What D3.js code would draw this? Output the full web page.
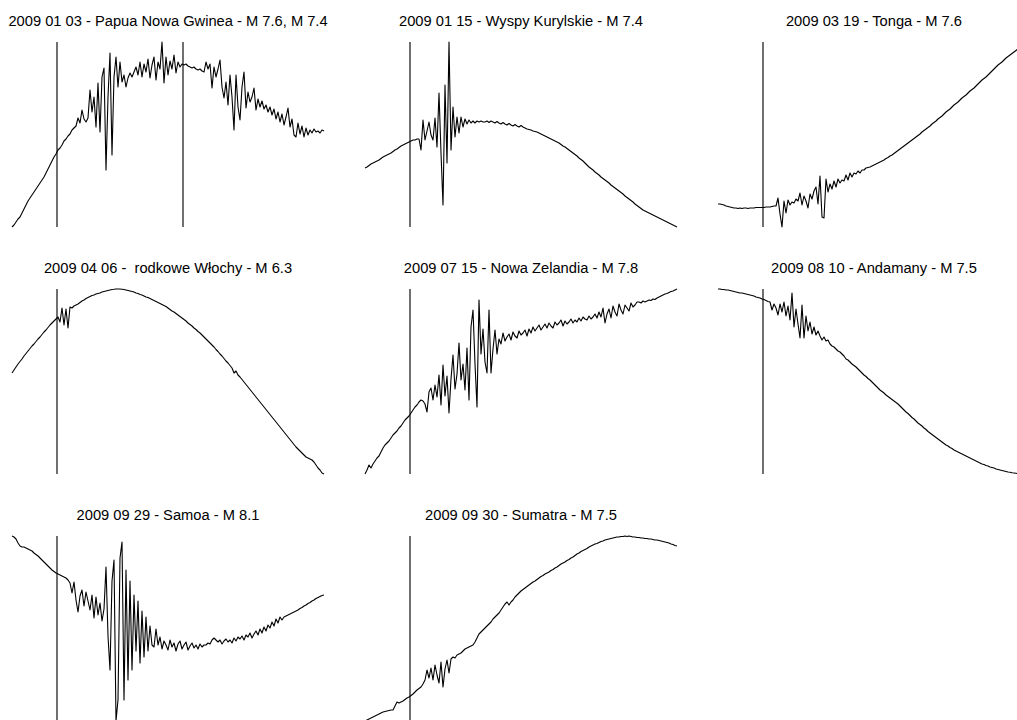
<!DOCTYPE html>
<html>
<head>
<meta charset="utf-8">
<script src="https://cdnjs.cloudflare.com/ajax/libs/d3/7.8.5/d3.min.js"></script>
<style>
  body { margin: 0; background: #fff; }
  svg { display: block; }
  .title { font-family: "Liberation Sans", Arial, sans-serif; font-size: 14.7px; fill: #000; white-space: pre; }
</style>
</head>
<body>
<div id="chart"></div>
<script>
// panel titles (one per earthquake)
var titles = [
    "2009 01 03 - Papua Nowa Gwinea - M 7.6, M 7.4",
    "2009 01 15 - Wyspy Kurylskie - M 7.4",
    "2009 03 19 - Tonga - M 7.6",
    "2009 04 06 -  rodkowe Włochy - M 6.3",
    "2009 07 15 - Nowa Zelandia - M 7.8",
    "2009 08 10 - Andamany - M 7.5",
    "2009 09 29 - Samoa - M 8.1",
    "2009 09 30 - Sumatra - M 7.5"
];

// event times (minutes from start of record)
var markers = [[22.5, 85.5], [22.5], [22.5], [22.5], [22.5], [22.5], [22.5], [22.5]];

// traces, one sample per minute
var trace1 = [0,2,5,8,10,14,18,22,26,29,32,35,38,41,44,47,50,54,58,62,66,70,73,77,79,82,86,88,91,93,97,99,101,
    109,104,117,108,105,
    109,137,115,130,100,144,95,150,159,57,130,174,72,150,170,140,165,145,152,140,149,154,150,155,
    160,152,165,150,163,155,168,149,162,170,147,165,158,185,144,170,152,166,158,172,154,165,160,163,
    162,163,161,160,159,160,158,157,158,156,155,
    165,158,163,139,160,150,158,167,140,129,145,122,152,130,97,152,120,107,140,155,119,135,125,130,139,117,128,120,
    126,118,122,115,120,112,118,108,115,105,113,102,110,119,100,108,92,90,104,93,101,90,99,92,97,94,98,95,96,94,97,96];

var trace2 = [59,60,61.5,63,64,65,66,67,68.5,70,71,72,73,74,75.5,77,78,79.5,81,82,83,84,85,86,87,87,88,88,77,
    107,87,96,105,92,87,109,80,134,74,22,142,64,185,77,120,90,110,94,110,100,108,103,107,104,106,104,106,105,106,105,
    105,106,104.5,106,105,104,105.5,104,103,104.5,103,102,103.5,102,101,102.5,101,100,101.5,100,
    99,98,97.5,97,96,95.5,95,94,93,92,91,90,89,88,87,86,85,84,82.5,81,80,78.5,77,75.5,74,72.5,71,69,67.5,66,
    64,62,60,58.5,57,55,53.5,52,50,48.5,47,45.5,44,42,40.5,39,37.5,36,34.5,33,31,29.5,28,26.5,25,23,21.5,20,18.5,17,
    16,15,14,13,12,11,10,9,8,7,6,5,4,3,2,1,0];

var trace3 = [23,23,22.5,22,21,20.5,20,19.5,19,19,18.5,19,18.5,19,19,18.5,19,19,19,19.5,19.5,19.5,19.5,19.5,20,20,20,20.5,21,21,
    29,13,0,26,14,27,22,25,24,28,26,34,22,31,26,19,33,28,36,40,23,51,10,9,48,35,43,38,46,40,48,44,47,46,52,47,54,50,54,53,56,54,57,57,59,59.5,
    60,61,62,63,64,65,66,67,68.5,69.5,71,72,73.5,75,76.5,78,79.5,81,82.5,84,85.5,87,88.5,90,91.5,93,95,96.5,98,99.5,
    101,103,104.5,106,108,109.5,111,113,115,116.5,118,120,122,123.5,125,127,129,130.5,132,134,136,137.5,139,141,143,
    145,147,148.5,150,152,154,156,158,160,162,163.5,165,167,169,170.5,172,173.5,175,176.5,178,179.5,181,182,183,184,185];

var trace4 = [101,104,107,110,112.5,115,118,120.5,123,125.5,128,130,132.5,135,137,139.5,142,144,146.5,149,151,153,155,
    157,152,166,149,165,146,167,
    166,168,169,170,171.5,173,174,175.5,176.5,177.5,178.5,179,180,180.5,181,182,182.5,183,183.5,184,184.5,184.7,185,185,185,
    184.8,184.5,184,183.5,183,182.5,182,181,180.5,179.5,179,178,177,176.5,175.5,174.5,173.5,172.5,171.5,170.5,
    169.5,168.5,167.5,166,164.5,163,162,160.5,159,157.5,156,154.5,153,151,149.5,148,146,144.5,142.5,141,
    139,137,135,133,131,129,127,124.5,122.5,120,118,115.5,113,111,108.5,106,101,103,99,97,
    94.5,92,89.5,87,84.5,82,79.5,77,74.5,72,69.5,67,64.5,62,59.5,57,54.5,52,49.5,47,
    44.5,42,39.5,37,34.5,32,29.5,27,25,23,21,19,17,16,15,14,12,9,6,4,1,0];

var trace5 = [0,4,9,6,10,13,16,18,22,26,29,31,33,36,39,41,43,46,48,51,54,56,58,61,64,67,69,72,74,
    73,70,62,82,86,74,89,77,99,69,109,78,98,61,95,119,85,100,131,94,110,84,126,74,147,164,110,67,174,120,145,112,101,164,101,125,144,120,
    135,130,141,133,137,140,134,142,138,136,143,139,141,144,138,145,141,147,143,146,149,144,147,150,146,
    151,148,146,152,149,151,154,148,153,150,152,155,151,154,152,156,153,157,155,154,158,155,157,160,156,
    162,157,166,151,160,165,156,168,162,158,170,164,160,169,166,163,171,167,169,172,
    172,171,173,172,173,174,173.5,175,174.5,176,177,178,179,180,180.5,181.5,182.5,183,184,185];

var trace6 = [185,185,184.5,184.5,184,184,183.5,183,182.5,182,181.5,181,181,180.5,180,179.5,179,178.5,178,177,176.5,176,175,174.5,173.5,172.5,172,
    164,170,166,159,170,162,172,158,168,154,181,147,165,150,136,169,136,158,143,152,140,147,139,143,138,134,137,133,134,130,
    128,127,125,123,122,120,118,115,114,112,110,108.5,107,105,103,101,99,97.5,95.5,94,92,90,88,86,84,
    82.5,81,79,77.5,76,74.5,73,71.5,70,68,66,64,62,60.5,58.5,56.5,55,53,51,49.5,48,46,44.5,42.5,41,
    39.5,38,36.5,35,33.5,32,30.5,29,28,26.5,25.5,24,23,22,21,20,19,18,17,16,15,14,13,12,11,
    10,9.5,8.5,8,7,6.5,6,5,4.5,4,3.5,3,2.5,2,1.7,1.3,1,0.7,0.4,0.2,0,0,0,0.2,0.4];

var trace7 = [185,184,182,178,175,174,174,173,172,171,170,168,166.5,165,163,161,159,157,155,153,151,149.5,148,147,146,145,144,143,141,138,
    128,139,121,109,125,131,115,129,120,111,126,103,124,106,118,100,112,154,85,51,140,161,0,21,163,179,21,151,41,140,51,126,70,120,58,110,64,104,70,95,76,74,92,76,
    84,72,80,76,71,81,74,78,70,77,80,72,76,79,71,75,78,73,76,72,77,74,76,
    76,78,77,81,83,81,79,81,77,80,82,79,81,78,83,80,84,82,85,81,86,84,88,83,87,90,86,92,88,94,
    90,96,93,99,95,102,98,104,101,104,105,106,107,108,109,110,111,112.5,113.5,115,116,117.5,118.5,120,121,122.5,123.5,124.5,125.5,126];

var trace8 = [0,1,2,3,4,5,6,7,8,9,9.5,10,10.5,11,11,15,19,18,19,20,21.5,23,24,25.5,27,29,31,32.5,34,37,41,
    51,43,53,41,56,46,38,59,34,52,61,48,62,64,63,66,67,68,70,72,73,74,75,76,
    79,83,87,89,91,93,95,97,99,102,104,106,108,111,114,117,119,116,119,121,124,126,128,130,131.5,
    133,134.5,136,137.5,139,140,141.5,143,144.5,145.5,147,148,149,150.5,151.5,153,154,155.5,157,158,
    159,160.5,161.5,163,164,165.5,167,168,169.5,170.5,171.5,172.5,174,175,176,177,177.5,178.5,179.5,180,
    181,181.5,182,182.5,183,183.5,184,184,184.5,184.5,185,184.5,185,184.5,184,184,183.5,183.5,183,183,
    182.5,182.5,182,182,181.5,181,181,180.5,180,179.5,179,178.5,178,177,176.5,175.5,175];

var traces = [trace1, trace2, trace3, trace4, trace5, trace6, trace7, trace8];

// page and panel sizes
var svgWidth = 1017;
var svgHeight = 720;
var plotWidth = 312;
var plotHeight = 185;
var colStep = 353;
var rowStep = 247;
var margin = {left: 12, top: 42};

var svg = d3.select("#chart")
    .append("svg")
    .attr("width", svgWidth)
    .attr("height", svgHeight);

traces.forEach(function(values, i) {
    var col = i % 3;
    var row = Math.floor(i / 3);

    var g = svg.append("g")
        .attr("transform", `translate(${margin.left + col * colStep}, ${margin.top + row * rowStep})`);

    // each panel is scaled to its own record
    var xScale = d3.scaleLinear()
        .domain([0, values.length - 1])
        .range([0, plotWidth]);

    var yScale = d3.scaleLinear()
        .domain(d3.extent(values))
        .range([plotHeight, 0]);

    var line = d3.line()
        .x((d, j) => xScale(j))
        .y(d => yScale(d));

    // event markers
    g.selectAll("line.marker")
        .data(markers[i])
        .enter()
        .append("line")
        .attr("class", "marker")
        .attr("x1", d => xScale(d))
        .attr("x2", d => xScale(d))
        .attr("y1", yScale.range()[1])
        .attr("y2", yScale.range()[0])
        .attr("stroke", "#222")
        .attr("stroke-width", 1.3);

    g.append("path")
        .datum(values)
        .attr("d", line)
        .attr("fill", "none")
        .attr("stroke", "#000")
        .attr("stroke-width", 1.1)
        .attr("stroke-linejoin", "round");

    g.append("text")
        .attr("class", "title")
        .attr("x", plotWidth / 2)
        .attr("y", -16)
        .attr("text-anchor", "middle")
        .text(titles[i]);
});
</script>
</body>
</html>
